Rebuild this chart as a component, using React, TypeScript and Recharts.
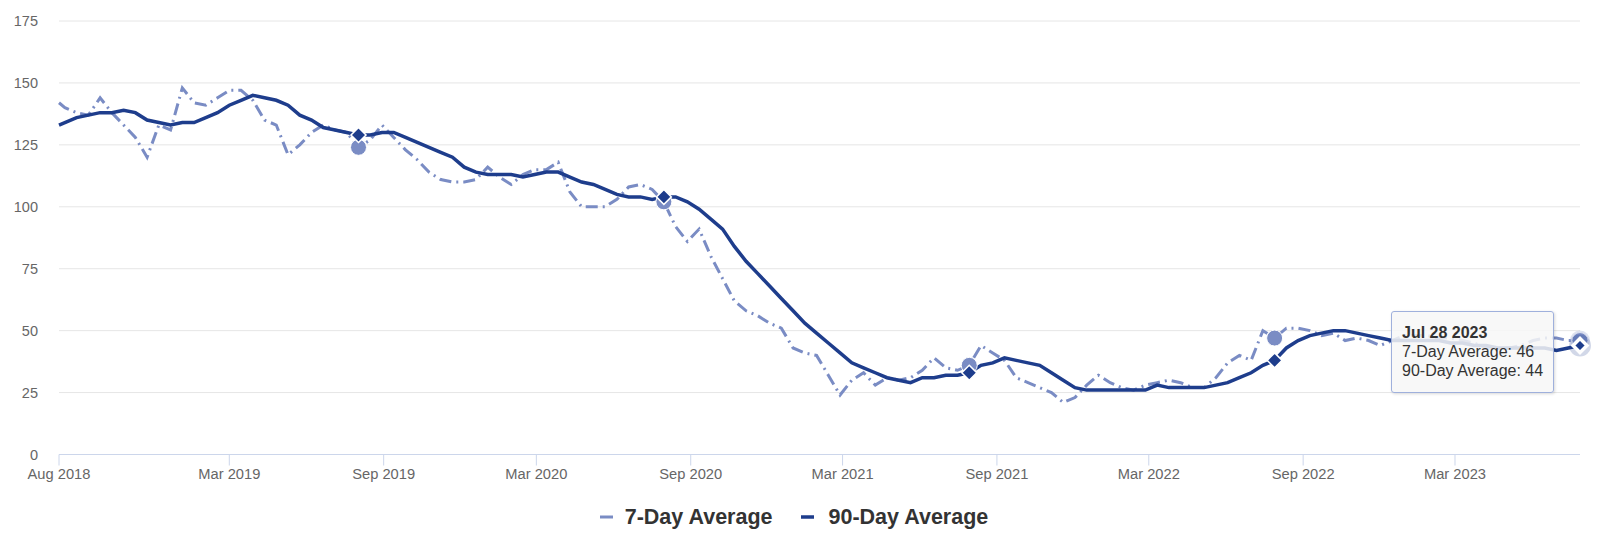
import React from 'react';
import { LineChart, Line, XAxis, YAxis, CartesianGrid, Tooltip, Legend } from 'recharts';

const FONT = '"Liberation Sans", Arial, Helvetica, sans-serif';
const C7 = '#7a8cc4';
const C90 = '#1e3d8c';
const DAY = 86400000;

// Weekly (Friday) series sampled every two weeks; first point Aug 10 2018, last Jul 28 2023
const startDate = '2018-08-10';
const sampleOffsetsStart = 7; // days after start for the second sample
const sampleStepDays = 14;

const sevenDay = [
  142,
  140, 138, 137, 144, 138, 133, 128, 120, 133, 131,
  148, 142, 141, 144, 147, 147, 143, 135, 133, 121,
  125, 130, 133, 131, 130, 124, 127, 133, 128, 123,
  119, 114, 111, 110, 110, 111, 116, 112, 109, 113,
  115, 115, 118, 106, 100, 100, 100, 103, 108, 109,
  107, 102, 92, 86, 91, 80, 71, 62, 58, 56,
  53, 51, 43, 41, 40, 32, 24, 30, 33, 28,
  31, 30, 31, 34, 39, 35, 34, 36, 44, 41,
  38, 31, 29, 27, 25, 21, 23, 28, 32, 29,
  27, 26, 28, 29, 30, 29, 27, 27, 31, 37,
  40, 38, 50, 47, 51, 51, 50, 48, 49, 46,
  47, 46, 44, 46, 48, 48, 48, 47, 47, 46,
  45, 43, 43, 43, 44, 46, 47, 47, 46, 46,
];

const ninetyDay = [
  133,
  134, 136, 137, 138, 138, 139, 138, 135, 134, 133,
  134, 134, 136, 138, 141, 143, 145, 144, 143, 141,
  137, 135, 132, 131, 130, 129, 129, 130, 130, 128,
  126, 124, 122, 120, 116, 114, 113, 113, 113, 112,
  113, 114, 114, 112, 110, 109, 107, 105, 104, 104,
  103, 104, 104, 102, 99, 95, 91, 84, 78, 73,
  68, 63, 58, 53, 49, 45, 41, 37, 35, 33,
  31, 30, 29, 31, 31, 32, 32, 33, 36, 37,
  39, 38, 37, 36, 33, 30, 27, 26, 26, 26,
  26, 26, 26, 28, 27, 27, 27, 27, 28, 29,
  31, 33, 36, 38, 43, 46, 48, 49, 50, 50,
  49, 48, 47, 46, 46, 46, 46, 46, 45, 45,
  44, 44, 43, 43, 43, 43, 43, 42, 43, 44,
];

const markerDates = ['2019-08-02', '2020-07-31', '2021-07-30', '2022-07-29', '2023-07-28'];

const tickDates = ['2018-08-10', '2019-03-01', '2019-09-01', '2020-03-01', '2020-09-01', '2021-03-01', '2021-09-01', '2022-03-01', '2022-09-01', '2023-03-01'];
const tickLabels = ['Aug 2018', 'Mar 2019', 'Sep 2019', 'Mar 2020', 'Sep 2020', 'Mar 2021', 'Sep 2021', 'Mar 2022', 'Sep 2022', 'Mar 2023'];

const yTicks = [0, 25, 50, 75, 100, 125, 150, 175];
const MONTHS = ['Jan', 'Feb', 'Mar', 'Apr', 'May', 'Jun', 'Jul', 'Aug', 'Sep', 'Oct', 'Nov', 'Dec'];

const toTime = (iso: string) => Date.parse(iso + 'T00:00:00Z');
const toIso = (t: number) => new Date(t).toISOString().slice(0, 10);

const t0 = toTime(startDate);
const data = sevenDay.map((v, i) => {
  const t = i === 0 ? t0 : t0 + (sampleOffsetsStart + sampleStepDays * (i - 1)) * DAY;
  return { t, iso: toIso(t), d7: v, d90: ninetyDay[i] };
});
const tEnd = data[data.length - 1].t;

const tickTimes = tickDates.map(toTime);
const tickLabelMap = new Map<number, string>(tickTimes.map((t, i) => [t, tickLabels[i]]));
const markerSet = new Set(markerDates);

const fmtDate = (t: number) => {
  const d = new Date(t);
  return `${MONTHS[d.getUTCMonth()]} ${d.getUTCDate()} ${d.getUTCFullYear()}`;
};

const SevenDot = (props: any) => {
  const { cx, cy, payload, index } = props;
  if (cx == null || cy == null || !payload || !markerSet.has(payload.iso)) return <g key={`d7-${index}`} />;
  return <circle key={`d7-${index}`} cx={cx} cy={cy} r={8} fill={C7} stroke="#ffffff" strokeWidth={1} />;
};

const diamond = (cx: number, cy: number, h: number) =>
  `M${cx},${cy - h}L${cx + h},${cy}L${cx},${cy + h}L${cx - h},${cy}Z`;

const NinetyDot = (props: any) => {
  const { cx, cy, payload, index } = props;
  if (cx == null || cy == null || !payload || !markerSet.has(payload.iso)) return <g key={`d90-${index}`} />;
  return <path key={`d90-${index}`} d={diamond(cx, cy, 7.5)} fill={C90} stroke="#ffffff" strokeWidth={1.5} />;
};

const SevenActive = (props: any) => {
  const { cx, cy } = props;
  if (cx == null || cy == null) return <g />;
  return (
    <g>
      <circle cx={cx} cy={cy} r={10} fill={C7} fillOpacity={0.25} />
      <circle cx={cx} cy={cy} r={5} fill={C7} fillOpacity={0.5} />
    </g>
  );
};

const NinetyActive = (props: any) => {
  const { cx, cy } = props;
  if (cx == null || cy == null) return <g />;
  return (
    <g>
      <circle cx={cx} cy={cy} r={11} fill={C90} fillOpacity={0.2} />
      <path d={diamond(cx, cy, 7)} fill={C90} stroke="#ffffff" strokeWidth={3.5} />
    </g>
  );
};

const TooltipBox = (props: any) => {
  const { active, payload } = props;
  if (!active || !payload || !payload.length) return null;
  const row = payload[0].payload;
  return (
    <div
      style={{
        background: 'rgba(247,247,247,0.85)',
        border: '1px solid #9fb0dc',
        borderRadius: 3,
        padding: '11px 10px 12px 10px',
        fontFamily: FONT,
        fontSize: 16,
        lineHeight: '19px',
        color: '#333333',
        whiteSpace: 'nowrap',
        boxShadow: '1px 1px 3px rgba(0,0,0,0.15)',
      }}
    >
      <div style={{ fontWeight: 700 }}>{fmtDate(row.t)}</div>
      <div>7-Day Average: {row.d7}</div>
      <div>90-Day Average: {row.d90}</div>
    </div>
  );
};

const LegendContent = () => (
  <div
    style={{
      display: 'flex',
      justifyContent: 'center',
      alignItems: 'center',
      height: 30,
      fontFamily: FONT,
      fontWeight: 700,
      fontSize: 21.5,
      color: '#333333',
    }}
  >
    <svg width={13} height={4} style={{ display: 'block' }}>
      <line x1={0} y1={2} x2={13} y2={2} stroke={C7} strokeWidth={3} />
    </svg>
    <span style={{ marginLeft: 12 }}>7-Day Average</span>
    <svg width={13} height={4} style={{ display: 'block', marginLeft: 28 }}>
      <line x1={0} y1={2} x2={13} y2={2} stroke={C90} strokeWidth={3.5} />
    </svg>
    <span style={{ marginLeft: 15 }}>90-Day Average</span>
  </div>
);

export default function App() {
  return (
    <div style={{ width: 1584, height: 526, fontFamily: FONT }}>
      <LineChart width={1584} height={526} data={data} margin={{ top: 13, right: 12, bottom: 2, left: 0 }}>
        <CartesianGrid vertical={false} stroke="#e6e6e6" />
        <XAxis
          dataKey="t"
          type="number"
          domain={[t0, tEnd]}
          ticks={tickTimes}
          interval={0}
          tickFormatter={(v: number) => tickLabelMap.get(v) ?? ''}
          height={47.5}
          tickSize={11}
          tickMargin={3.5}
          axisLine={{ stroke: '#ccd6eb' }}
          tickLine={{ stroke: '#ccd6eb' }}
          tick={{ fill: '#666666', fontSize: 14.7, fontFamily: FONT }}
        />
        <YAxis
          domain={[0, 175]}
          ticks={yTicks}
          interval={0}
          width={51}
          axisLine={false}
          tickLine={false}
          tickSize={0}
          tickMargin={21}
          tick={{ fill: '#666666', fontSize: 14.5, fontFamily: FONT }}
        />
        <Legend verticalAlign="bottom" align="center" content={<LegendContent />} />
        <Tooltip
          defaultIndex={data.length - 1}
          content={<TooltipBox />}
          cursor={false}
          isAnimationActive={false}
          position={{ x: 1383, y: 303 }}
        />
        <Line
          dataKey="d7"
          name="7-Day Average"
          type="linear"
          stroke={C7}
          strokeWidth={3}
          strokeDasharray="12 5 2 5"
          dot={SevenDot}
          activeDot={SevenActive}
          isAnimationActive={false}
        />
        <Line
          dataKey="d90"
          name="90-Day Average"
          type="linear"
          stroke={C90}
          strokeWidth={3.5}
          dot={NinetyDot}
          activeDot={NinetyActive}
          isAnimationActive={false}
        />
      </LineChart>
    </div>
  );
}
